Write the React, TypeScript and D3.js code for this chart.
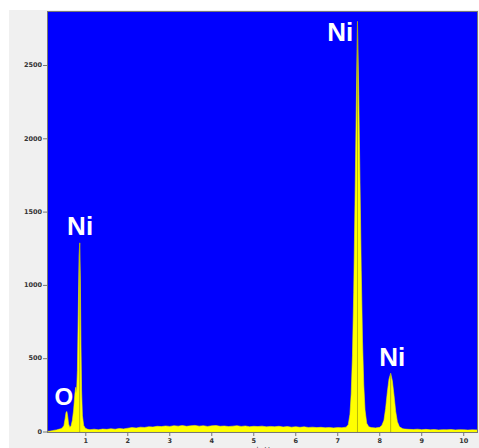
import React from 'react';
import * as d3 from 'd3';

// EDX spectrum: energy (keV) and counts
const energies = [
  0.10, 0.15, 0.20, 0.25, 0.30, 0.35, 0.40, 0.44, 0.48, 0.51, 0.53, 0.55, 0.57, 0.59, 0.62, 0.65, 0.68,
  0.71, 0.74, 0.76, 0.78, 0.80, 0.82, 0.84, 0.855, 0.87, 0.885, 0.90, 0.92, 0.95, 0.99, 1.05,
  1.1, 1.2, 1.3, 1.4, 1.5, 1.6, 1.7, 1.8, 1.9, 2.0, 2.1, 2.2, 2.3, 2.4, 2.5, 2.6, 2.7, 2.8, 2.9,
  3.0, 3.1, 3.2, 3.3, 3.4, 3.5, 3.6, 3.7, 3.8, 3.9, 4.0, 4.1, 4.2, 4.3, 4.4, 4.5, 4.6, 4.7, 4.8, 4.9,
  5.0, 5.1, 5.2, 5.3, 5.4, 5.5, 5.6, 5.7, 5.8, 5.9, 6.0, 6.1, 6.2, 6.3, 6.4, 6.5, 6.6, 6.7, 6.8, 6.9,
  7.0, 7.1, 7.2, 7.25, 7.29, 7.32, 7.35, 7.38, 7.41, 7.44, 7.46, 7.47, 7.48, 7.50, 7.53, 7.56, 7.59,
  7.62, 7.65, 7.69, 7.74, 7.8, 7.9, 8.0, 8.05, 8.1, 8.14, 8.18, 8.22, 8.26, 8.30, 8.34, 8.38, 8.42,
  8.47, 8.55, 8.6, 8.7, 8.8, 8.9, 9.0, 9.1, 9.2, 9.3, 9.4, 9.5, 9.6, 9.7, 9.8, 9.9, 10.0, 10.1, 10.2, 10.34,
];
const counts = [
  4, 6, 9, 12, 14, 18, 22, 28, 45, 95, 135, 140, 105, 55, 30, 42, 80,
  150, 260, 305, 270, 420, 800, 1200, 1290, 1050, 600, 280, 110, 45, 25, 18,
  16, 19, 15, 20, 18, 22, 19, 24, 21, 26, 30, 27, 33, 31, 36, 34, 39, 37, 41,
  38, 43, 40, 44, 39, 42, 45, 40, 43, 38, 42, 44, 39, 41, 37, 40, 43, 38, 41, 36,
  39, 37, 40, 35, 38, 36, 39, 34, 37, 33, 36, 32, 35, 31, 33, 30, 32, 29, 31, 28,
  30, 29, 33, 50, 120, 260, 520, 950, 1550, 2200, 2620, 2800, 2650, 2300, 1700, 1100, 620,
  320, 150, 60, 35, 30, 28, 32, 45, 80, 160, 270, 360, 400, 350, 250, 140, 70,
  35, 22, 20, 18, 17, 19, 16, 18, 15, 17, 14, 16, 15, 17, 14, 16, 15, 13, 15, 14,
];

const yTicks = [0, 500, 1000, 1500, 2000, 2500];
const xTicks = [1, 2, 3, 4, 5, 6, 7, 8, 9, 10];

const peakLabels = ['O', 'Ni', 'Ni', 'Ni'];
const peakLabelEnergy = [0.48, 0.865, 7.06, 8.3];
const peakLabelCount = [181, 1347, 2667, 447];
const peakLabelSize = [24, 26, 26, 26];

const markerEnergy = [0.855, 7.47, 8.26];
const markerCount = [1290, 2800, 400];

export default function App() {
  const W = 479;
  const H = 448;
  const plotL = 48, plotR = 478, plotT = 12, plotB = 432;
  const x = d3.scaleLinear().domain([0.1, 10.34]).range([plotL, plotR]);
  const y = d3.scaleLinear().domain([0, 2865]).range([plotB, plotT]);

  const pts = energies.map((e, i) => [e, counts[i]] as [number, number]);
  const area = d3
    .area<[number, number]>()
    .x((d) => x(d[0]))
    .y0(y(0))
    .y1((d) => y(d[1]))
    .curve(d3.curveLinear);

  const tickFont = '"DejaVu Sans", sans-serif';

  return (
    <svg
      width={W}
      height={H}
      style={{ position: 'absolute', left: 0, top: 0, background: '#ffffff' }}
    >
      <rect x={9} y={10} width={W - 9} height={H - 10} fill="#f0f0f0" />
      <defs>
        <clipPath id="plotclip">
          <rect x={plotL} y={plotT} width={plotR - plotL} height={plotB - plotT} />
        </clipPath>
      </defs>
      <rect x={plotL} y={plotT} width={plotR - plotL} height={plotB - plotT} fill="#0000ff" />
      <g clipPath="url(#plotclip)">
        <path d={area(pts) || ''} fill="#ffff00" stroke="#f0f000" strokeWidth={0.6} />
        {markerEnergy.map((e, i) => (
          <line
            key={i}
            x1={x(e)}
            x2={x(e)}
            y1={y(0)}
            y2={y(markerCount[i])}
            stroke="#9a9a10"
            strokeWidth={0.7}
          />
        ))}
      </g>
      <rect
        x={plotL - 0.5}
        y={plotT - 0.5}
        width={plotR - plotL}
        height={plotB - plotT + 1}
        fill="none"
        stroke="#777"
        strokeWidth={1}
      />
      {yTicks.map((t) => (
        <g key={t}>
          <line x1={plotL - 5} x2={plotL - 1} y1={y(t)} y2={y(t)} stroke="#777" strokeWidth={1} />
          <text
            x={plotL - 6}
            y={y(t)}
            textAnchor="end"
            dominantBaseline="middle"
            fontFamily={tickFont}
            fontWeight="bold"
            fontSize={6.5}
            fill="#333"
          >
            {t}
          </text>
        </g>
      ))}
      {xTicks.map((t) => (
        <g key={t}>
          <line x1={x(t)} x2={x(t)} y1={plotB} y2={plotB + 4} stroke="#777" strokeWidth={1} />
          <text
            x={x(t)}
            y={443}
            textAnchor="middle"
            fontFamily={tickFont}
            fontWeight="bold"
            fontSize={6.5}
            fill="#333"
          >
            {t}
          </text>
        </g>
      ))}
      <text x={263} y={452} textAnchor="middle" fontFamily={tickFont} fontSize={7} fill="#444">
        keV
      </text>
      {peakLabels.map((l, i) => (
        <text
          key={i}
          x={x(peakLabelEnergy[i])}
          y={y(peakLabelCount[i])}
          textAnchor="middle"
          fontFamily='"Liberation Sans", Arial, sans-serif'
          fontWeight="bold"
          fontSize={peakLabelSize[i]}
          fill="#ffffff"
        >
          {l}
        </text>
      ))}
    </svg>
  );
}
